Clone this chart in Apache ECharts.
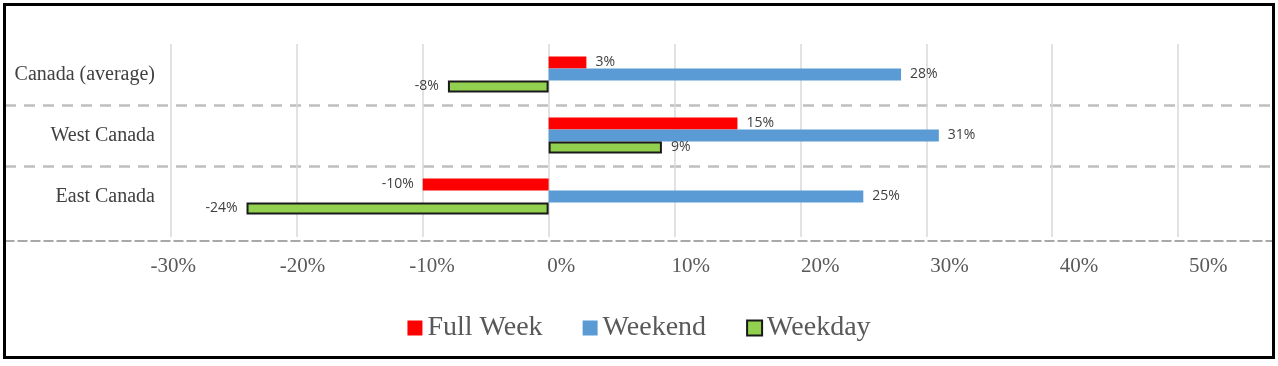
<!DOCTYPE html>
<html>
<head>
<meta charset="utf-8">
<script src="https://cdn.jsdelivr.net/npm/echarts@6/dist/echarts.min.js"></script>
<style>
html,body{margin:0;padding:0;background:#fff;}
#chart{width:1278px;height:366px;}
</style>
</head>
<body>
<div id="chart"></div>
<script>
const categories = ['Canada (average)', 'West Canada', 'East Canada'];
const seriesNames = ['Full Week', 'Weekend', 'Weekday'];
const fullWeek = [3, 15, -10];
const weekend = [28, 31, 25];
const weekday = [-8, 9, -24];
const tickValues = [-30, -20, -10, 0, 10, 20, 30, 40, 50];

const chart = echarts.init(document.getElementById('chart'));
const labelStyle = {
  show: true,
  position: 'right',
  distance: 9,
  fontFamily: 'Open Sans',
  fontSize: 14,
  color: '#404040',
  formatter: p => p.value + '%'
};
function mkData(arr) {
  return arr.map(v => ({ value: v, label: { position: v < 0 ? 'left' : 'right' } }));
}
const option = {
  animation: false,
  backgroundColor: '#fff',
  graphic: [{
    type: 'rect',
    shape: { x: 4.5, y: 4.5, width: 1269, height: 353 },
    style: { fill: 'none', stroke: '#000', lineWidth: 3 },
    z: 100
  }],
  grid: [
    { left: 171, right: 100, top: 44, height: 183 },
    { left: 5, right: 5, top: 44, height: 183 }
  ],
  xAxis: [
    {
      gridIndex: 0, type: 'value', min: -30, max: 50, interval: 10,
      axisLine: { show: false },
      axisTick: { show: true, length: 10, lineStyle: { color: '#d9d9d9', width: 1.5 } },
      axisLabel: { show: false },
      splitLine: { show: true, lineStyle: { color: '#d9d9d9', width: 1.5 } }
    },
    {
      gridIndex: 1, type: 'value', min: -43, max: 55, offset: 14,
      axisLine: { show: true, lineStyle: { color: '#8c8c8c', width: 1.5, type: [9, 4] } },
      axisTick: { show: false },
      splitLine: { show: false },
      axisLabel: {
        show: true, customValues: tickValues, margin: 15,
        fontFamily: 'Liberation Serif', fontSize: 21, color: '#595959',
        formatter: v => v + '%'
      }
    }
  ],
  yAxis: [
    {
      gridIndex: 0, type: 'category', data: categories, inverse: true,
      axisLine: { show: false }, axisTick: { show: false },
      axisLabel: { margin: 16, fontFamily: 'Liberation Serif', fontSize: 20, color: '#404040' },
      splitLine: { show: false }
    },
    {
      gridIndex: 1, type: 'category', data: categories, inverse: true,
      axisLine: { show: false }, axisTick: { show: false }, axisLabel: { show: false },
      splitLine: { show: true, showMinLine: false, showMaxLine: false,
        lineStyle: { color: '#bfbfbf', width: 2.5, type: [11, 8] } }
    }
  ],
  legend: {
    top: 309, left: 'center', itemWidth: 15, itemHeight: 15, itemGap: 40, icon: 'rect',
    textStyle: { fontFamily: 'Liberation Serif', fontSize: 28, color: '#595959' },
    data: seriesNames
  },
  series: [
    { name: seriesNames[0], type: 'bar', xAxisIndex: 0, yAxisIndex: 0, barWidth: 12, barGap: '0%',
      itemStyle: { color: '#ff0000' }, label: labelStyle, data: mkData(fullWeek) },
    { name: seriesNames[1], type: 'bar', xAxisIndex: 0, yAxisIndex: 0, barWidth: 12, barGap: '0%',
      itemStyle: { color: '#5b9bd5' }, label: labelStyle, data: mkData(weekend) },
    { name: seriesNames[2], type: 'bar', xAxisIndex: 0, yAxisIndex: 0, barWidth: 12, barGap: '0%',
      itemStyle: { color: '#92d050', borderColor: '#1a1a1a', borderWidth: 2 }, label: labelStyle, data: mkData(weekday) }
  ]
};
chart.setOption(option);
</script>
</body>
</html>
